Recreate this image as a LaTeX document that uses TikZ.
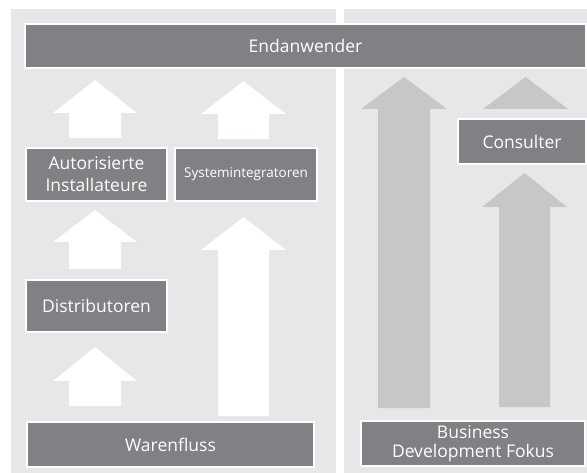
\documentclass[tikz,border=0pt]{standalone}
\usepackage{fontspec}
\setmainfont{Open Sans}
\usepackage{tikz}

\definecolor{panelgray}{HTML}{E6E7E8}
\definecolor{boxgray}{HTML}{808184}
\definecolor{arrowgray}{HTML}{C6C7C9}

\begin{document}
\begin{tikzpicture}[x=1pt,y=-1pt]
    \tikzstyle{panel}=[fill=panelgray,draw=none]
    \tikzstyle{box}=[fill=boxgray,draw=white,line width=1.2pt,text=white,inner sep=0pt,align=center,font=\fontsize{17.5}{22}\selectfont]
    \tikzstyle{flowarrow}=[fill=white,draw=none]
    \tikzstyle{focusarrow}=[fill=arrowgray,draw=none]
    \useasboundingbox (0,0) rectangle (587,473);
    % panels
    \fill[panel] (11,9) rectangle (336,473);
    \fill[panel] (344,9) rectangle (587,473);
    % white arrows (Warenfluss)
    \fill[flowarrow] (69,138) -- (69,113) -- (53,113) -- (95,80) -- (137,113) -- (121,113) -- (121,138) -- cycle;
    \fill[flowarrow] (218,139) -- (218,114) -- (201,114) -- (243.5,81) -- (286,114) -- (269,114) -- (269,139) -- cycle;
    \fill[flowarrow] (69,269) -- (69,242) -- (53,242) -- (95,210) -- (137,242) -- (121,242) -- (121,269) -- cycle;
    \fill[flowarrow] (69,406) -- (69,381) -- (53,381) -- (95,347) -- (137,381) -- (121,381) -- (121,406) -- cycle;
    \fill[flowarrow] (218,416) -- (218,250) -- (201,250) -- (243.5,217) -- (286,250) -- (269,250) -- (269,416) -- cycle;
    % grey arrows (Business Development)
    \fill[focusarrow] (378,408) -- (378,109) -- (361,109) -- (404,77) -- (447,109) -- (430,109) -- (430,408) -- cycle;
    \fill[focusarrow] (483,109) -- (525.5,77) -- (568,109) -- cycle;
    \fill[focusarrow] (499,407) -- (499,207) -- (482,207) -- (524.5,173) -- (567,207) -- (550,207) -- (550,407) -- cycle;
    % boxes
    \node[box,minimum width=561pt,minimum height=44pt] (endanwender) at (305.5,46) {Endanwender};
    \node[box,minimum width=141pt,minimum height=53pt] (installateure) at (96.5,174.5) {Autorisierte\\Installateure};
    \node[box,minimum width=142pt,minimum height=53pt,font=\fontsize{13.5}{16}\selectfont] (integratoren) at (246,174.5) {Systemintegratoren};
    \node[box,minimum width=141pt,minimum height=52pt] (distributoren) at (96.5,306) {Distributoren};
    \node[box,minimum width=287pt,minimum height=45pt] (warenfluss) at (170.5,444.5) {Warenfluss};
    \node[box,minimum width=128pt,minimum height=45pt] (consulter) at (522,141.5) {Consulter};
    \node[box,minimum width=224pt,minimum height=45pt,font=\fontsize{17.5}{18.5}\selectfont] (fokus) at (473,443.5) {Business\\Development Fokus};
\end{tikzpicture}
\end{document}
